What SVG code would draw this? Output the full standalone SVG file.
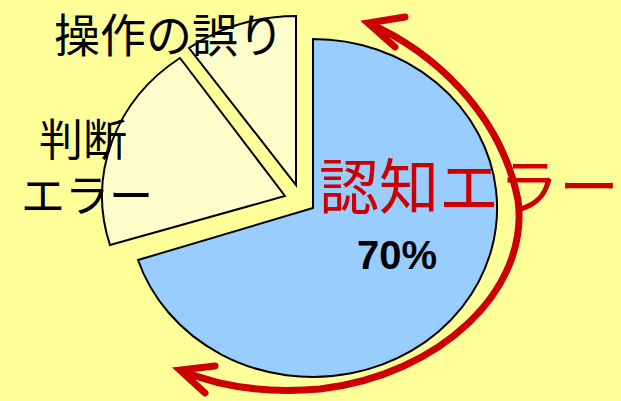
<svg xmlns="http://www.w3.org/2000/svg" width="621" height="401" viewBox="0 0 621 401">
<style>
.slice{stroke:#000;stroke-width:2;stroke-linejoin:miter}
.lbl{font-family:"Noto Sans CJK JP","Noto Sans",sans-serif;fill:#000}
.red{stroke:#CC0000;stroke-width:7;fill:none}
</style>
<rect width="621" height="401" fill="#FFFF99"/>
<g id="slice-cognitive">
<path class="slice" fill="#99CCFF" d="M313,208 L313,39 A184,169 0 1 1 138,260 Z"/>
</g>
<g id="slice-judgment">
<path class="slice" fill="#FFFFCC" d="M285,196 L180,58 A184,169 0 0 0 110,245 Z"/>
</g>
<g id="slice-operation">
<path class="slice" fill="#FFFFCC" d="M296,185 L296,16 A184,169 0 0 0 189,48 Z"/>
</g>
<g id="connectors">
<path class="red" d="M368,23 C430,50 500,110 518,200 C530,290 440,375 320,389 C260,394 215,385 180,370"/>
<polyline class="red" stroke-linecap="round" stroke-linejoin="miter" points="405,17 368,23 395,47"/>
<polyline class="red" stroke-linecap="round" stroke-linejoin="miter" points="215,366 180,370 205,393"/>
</g>
<g id="labels">
<text class="lbl" x="54" y="52" font-size="46">操作の誤り</text>
<text class="lbl" x="39" y="156" font-size="44">判断</text>
<text class="lbl" x="21" y="212" font-size="44">エラー</text>
<text class="lbl" x="319" y="209" font-size="60" fill="#CC0000" style="fill:#CC0000">認知エラー</text>
<text x="357" y="269" font-size="40" font-weight="bold" font-family="'Liberation Sans',Arial,sans-serif" fill="#000">70%</text>
</g>
</svg>
